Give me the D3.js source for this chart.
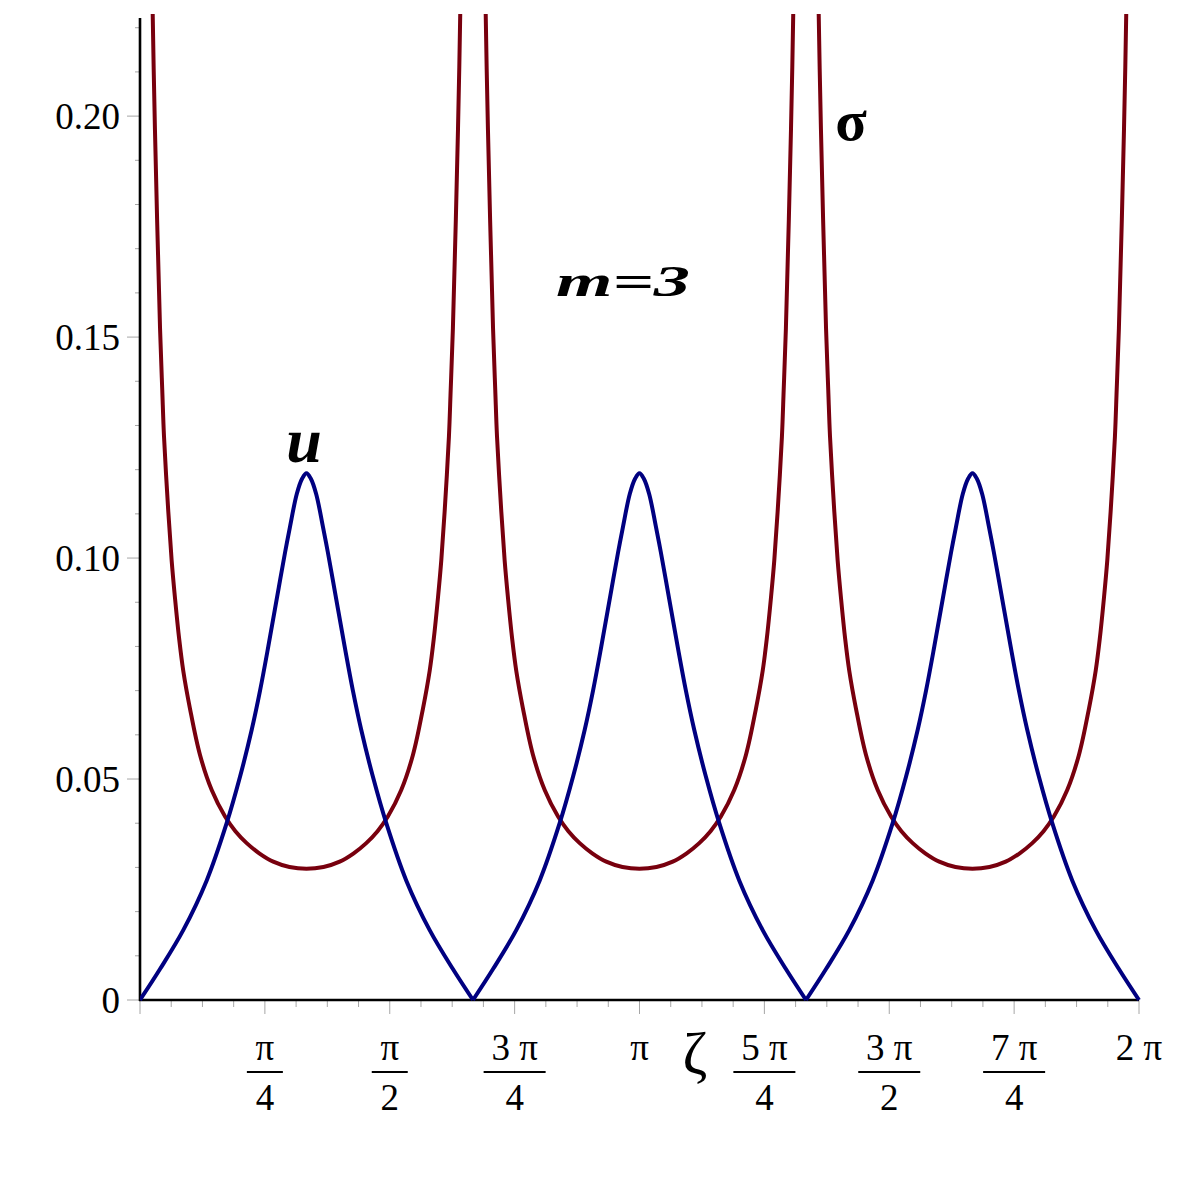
<!DOCTYPE html>
<html>
<head>
<meta charset="utf-8">
<script src="https://cdn.jsdelivr.net/npm/d3@7"></script>
<style>
  body { margin: 0; background: #fff; }
  text { font-family: "Liberation Serif", "Times New Roman", serif; }
</style>
</head>
<body>
<div id="chart"></div>
<script>
// Data: one period (0 .. 2π/3), repeated three times

let PI = Math.PI
let period = 2 * PI / 3
let periodIndex = [0, 1, 2]

let uZeta = [0, 0.126, 0.272, 0.419, 0.545, 0.629, 0.703, 0.755, 0.807, 0.849, 0.881, 0.912, 0.943, 0.986, 1.020, 1.047,
  1.074, 1.108, 1.151, 1.182, 1.213, 1.245, 1.287, 1.339, 1.391, 1.465, 1.549, 1.675, 1.822, 1.968, 2.0944]
let uValues = [0, 0.0070, 0.0158, 0.0270, 0.0400, 0.0505, 0.0612, 0.0700, 0.0800, 0.0885, 0.0950, 0.1012, 0.1070, 0.1145, 0.1180, 0.1192,
  0.1180, 0.1145, 0.1070, 0.1012, 0.0950, 0.0885, 0.0800, 0.0700, 0.0612, 0.0505, 0.0400, 0.0270, 0.0158, 0.0070, 0]

let sigmaZeta = [0.065, 0.080, 0.094, 0.126, 0.140, 0.151, 0.178, 0.199, 0.220, 0.247, 0.272, 0.314, 0.377, 0.451, 0.535, 0.600, 0.671, 0.750, 0.838, 0.940, 1.047,
  1.154, 1.256, 1.344, 1.423, 1.494, 1.559, 1.643, 1.717, 1.780, 1.822, 1.847, 1.874, 1.895, 1.916, 1.943, 1.954, 1.968, 2.000, 2.014, 2.029]
let sigmaValues = [0.260, 0.2229, 0.197, 0.152, 0.138, 0.1275, 0.1105, 0.0995, 0.091, 0.0815, 0.0745, 0.066, 0.0555, 0.0475, 0.0415, 0.0382, 0.0355, 0.0332, 0.0313, 0.0301, 0.0297,
  0.0301, 0.0313, 0.0332, 0.0355, 0.0382, 0.0415, 0.0475, 0.0555, 0.066, 0.0745, 0.0815, 0.091, 0.0995, 0.1105, 0.1275, 0.138, 0.152, 0.197, 0.2229, 0.260]

let yTicks = [0, 0.05, 0.10, 0.15, 0.20]
let yTickLabels = [`0`, `0.05`, `0.10`, `0.15`, `0.20`]

// x labels: multiples of π/4, numerator, denominator
let xTickMultiples = [1, 2, 3, 4, 5, 6, 7, 8]
let xTickNumerators = [`π`, `π`, `3 π`, `π`, `5 π`, `3 π`, `7 π`, `2 π`]
let xTickDenominators = [`4`, `2`, `4`, null, `4`, `2`, `4`, null]

// Layout

let width = 1181
let height = 1181
let plotLeft = 140
let plotRight = 1139
let plotBottom = 1000
let plotTop = 18

let uColor = `#000080`
let sigmaColor = `#78000e`
let tickColor = `#a6a6a6`

let x = d3.scaleLinear().domain([0, 2 * PI]).range([plotLeft, plotRight])
let y = d3.scaleLinear().domain([0, 0.2222]).range([plotBottom, plotTop])

let svg = d3.select(`#chart`)
  .append(`svg`)
  .attr(`width`, width)
  .attr(`height`, height)

svg.append(`defs`).append(`clipPath`)
  .attr(`id`, `plotClip`)
  .append(`rect`)
  .attr(`x`, plotLeft)
  .attr(`y`, plotTop - 4)
  .attr(`width`, plotRight - plotLeft + 4)
  .attr(`height`, plotBottom - plotTop + 6)

// Ticks

let xMinor = d3.range(0, 33).map(i => i * PI / 16)
svg.append(`g`)
  .selectAll(`line`)
  .data(xMinor)
  .join(`line`)
  .attr(`x1`, d => x(d))
  .attr(`x2`, d => x(d))
  .attr(`y1`, plotBottom)
  .attr(`y2`, (d, i) => plotBottom + (i % 4 === 0 ? 14 : 7))
  .attr(`stroke`, tickColor)
  .attr(`stroke-width`, 1)

let yMinor = d3.range(0, 23).map(i => i * 0.01)
svg.append(`g`)
  .selectAll(`line`)
  .data(yMinor)
  .join(`line`)
  .attr(`x1`, (d, i) => plotLeft - (i % 5 === 0 ? 13 : 5))
  .attr(`x2`, plotLeft)
  .attr(`y1`, d => y(d))
  .attr(`y2`, d => y(d))
  .attr(`stroke`, tickColor)
  .attr(`stroke-width`, 1)

// Axes

svg.append(`line`)
  .attr(`x1`, plotLeft).attr(`x2`, plotLeft)
  .attr(`y1`, plotTop).attr(`y2`, plotBottom + 1)
  .attr(`stroke`, `#000`).attr(`stroke-width`, 2.6)

svg.append(`line`)
  .attr(`x1`, plotLeft - 1).attr(`x2`, plotRight)
  .attr(`y1`, plotBottom).attr(`y2`, plotBottom)
  .attr(`stroke`, `#000`).attr(`stroke-width`, 2.6)

// Y labels

svg.append(`g`)
  .selectAll(`text`)
  .data(yTicks)
  .join(`text`)
  .attr(`x`, 120)
  .attr(`y`, d => y(d) + 13)
  .attr(`text-anchor`, `end`)
  .attr(`font-size`, 37)
  .text((d, i) => yTickLabels[i])

// X labels

let xl = svg.append(`g`)
xTickMultiples.forEach((m, i) => {
  let cx = x(m * PI / 4)
  xl.append(`text`)
    .attr(`x`, cx)
    .attr(`y`, 1060)
    .attr(`text-anchor`, `middle`)
    .attr(`font-size`, 37)
    .text(xTickNumerators[i])
  if (xTickDenominators[i]) {
    let barW = xTickNumerators[i].length > 1 ? 62 : 36
    xl.append(`line`)
      .attr(`x1`, cx - barW / 2)
      .attr(`x2`, cx + barW / 2)
      .attr(`y1`, 1072)
      .attr(`y2`, 1072)
      .attr(`stroke`, `#000`)
      .attr(`stroke-width`, 2.2)
    xl.append(`text`)
      .attr(`x`, cx)
      .attr(`y`, 1110)
      .attr(`text-anchor`, `middle`)
      .attr(`font-size`, 37)
      .text(xTickDenominators[i])
  }
})

svg.append(`text`)
  .attr(`x`, 695)
  .attr(`y`, 1073)
  .attr(`text-anchor`, `middle`)
  .attr(`font-size`, 60)
  .text(`ζ`)

// Curves

let line = d3.line()
  .x(d => x(d[0]))
  .y(d => y(d[1]))
  .curve(d3.curveCatmullRom.alpha(0.5))

let plot = svg.append(`g`).attr(`clip-path`, `url(#plotClip)`)

periodIndex.forEach(k => {
  let sigmaPts = sigmaZeta.map((z, i) => [z + k * period, sigmaValues[i]])
  plot.append(`path`)
    .attr(`d`, line(sigmaPts))
    .attr(`fill`, `none`)
    .attr(`stroke`, sigmaColor)
    .attr(`stroke-width`, 4)
})

periodIndex.forEach(k => {
  let uPts = uZeta.map((z, i) => [z + k * period, uValues[i]])
  plot.append(`path`)
    .attr(`d`, line(uPts))
    .attr(`fill`, `none`)
    .attr(`stroke`, uColor)
    .attr(`stroke-width`, 4)
    .attr(`stroke-linejoin`, `round`)
})

// Annotations

svg.append(`text`)
  .attr(`x`, 304)
  .attr(`y`, 462)
  .attr(`text-anchor`, `middle`)
  .attr(`font-family`, `"DejaVu Serif", serif`)
  .attr(`font-size`, 64)
  .attr(`font-weight`, `bold`)
  .attr(`font-style`, `italic`)
  .text(`u`)

svg.append(`text`)
  .attr(`x`, 556)
  .attr(`y`, 296)
  .attr(`font-family`, `"DejaVu Serif", serif`)
  .attr(`font-size`, 44)
  .attr(`font-weight`, `bold`)
  .attr(`font-style`, `italic`)
  .attr(`textLength`, 134)
  .attr(`lengthAdjust`, `spacingAndGlyphs`)
  .text(`m=3`)

svg.append(`text`)
  .attr(`x`, 851)
  .attr(`y`, 140)
  .attr(`text-anchor`, `middle`)
  .attr(`font-size`, 58)
  .attr(`font-weight`, `bold`)
  .text(`σ`)
</script>
</body>
</html>
